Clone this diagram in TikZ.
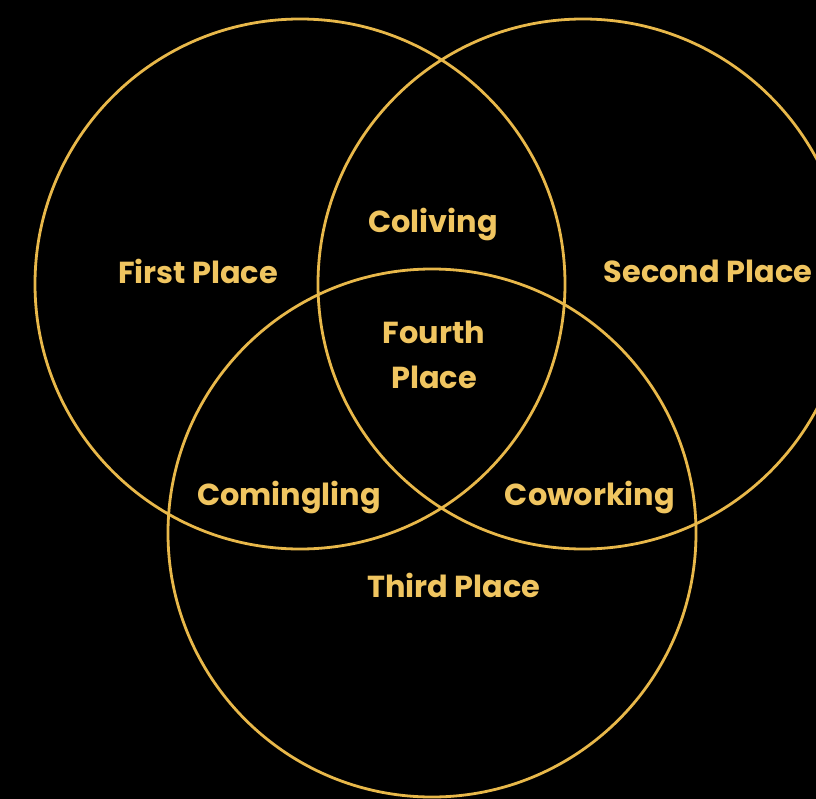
\documentclass[tikz,border=0pt]{standalone}
\usepackage{fontspec}
\setmainfont{Poppins}
\definecolor{gold}{HTML}{E8B84A}
\definecolor{goldtext}{HTML}{F0C560}
\begin{document}
\begin{tikzpicture}[x=1bp,y=-1bp,
  ring/.style={draw=gold,line width=2.8bp},
  lbl/.style={text=goldtext,font=\fontsize{30.5}{34}\selectfont\bfseries,inner sep=0pt,anchor=base,align=center}]
\fill[black] (0,0) rectangle (816,799);
\useasboundingbox (0,0) rectangle (816,799);
\begin{scope}
\clip (0,0) rectangle (816,799);
\draw[ring] (300,284) circle (265);
\draw[ring] (583,284) circle (265);
\draw[ring] (432,533) circle (264);
\end{scope}
\node[lbl] (first) at (198,283) {First Place};
\node[lbl] (coliving) at (433,232) {Coliving};
\node[lbl] (second) at (708,282) {Second Place};
\node[lbl] (fourth) at (434,343) {Fourth};
\node[lbl] (fourthb) at (434,388) {Place};
\node[lbl] (comingling) at (289,505) {Comingling};
\node[lbl] (coworking) at (590,505) {Coworking};
\node[lbl] (third) at (454,597) {Third Place};
\end{tikzpicture}
\end{document}
